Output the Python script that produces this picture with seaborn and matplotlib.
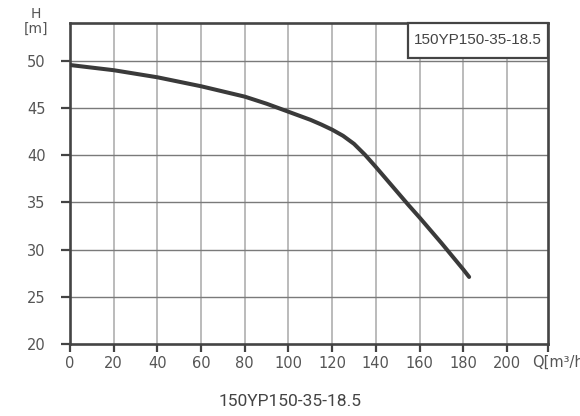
import matplotlib
matplotlib.use('Agg')
import matplotlib.pyplot as plt
from matplotlib.patches import Rectangle
import seaborn as sns
import pandas as pd

# curva Q-H
vazao = [0, 20, 40, 60, 80, 90, 100, 110, 115, 120, 125, 130, 135, 140, 145, 150, 155, 160, 170, 180, 182.7]
altura = [49.55, 49.0, 48.25, 47.3, 46.2, 45.45, 44.6, 43.75, 43.25, 42.7, 42.05, 41.2, 40.05, 38.75, 37.4, 36.05, 34.7, 33.4, 30.7, 27.9, 27.1]
x_ticks = [0, 20, 40, 60, 80, 100, 120, 140, 160, 180, 200]
y_ticks = [20, 25, 30, 35, 40, 45, 50]
modelo = '150YP150-35-18.5'

df = pd.DataFrame({'Q': vazao, 'H': altura})

sns.set_style('white')
plt.rcParams['font.family'] = ['DejaVu Sans']

fig = plt.figure(figsize=(5.8, 4.16), dpi=100)
ax = fig.add_axes([70 / 580, 1 - 344 / 416, 478 / 580, 321 / 416])

sns.lineplot(x='Q', y='H', data=df, ax=ax, color='#3a3a3a', linewidth=2.9,
             solid_capstyle='round', solid_joinstyle='round', zorder=3)

ax.set_xlim(0, 218.8)
ax.set_ylim(20, 54)
ax.set_xticks(x_ticks + [218.8])
ax.set_xticklabels([str(t) for t in x_ticks] + [''])
ax.set_yticks(y_ticks)
ax.set_xlabel('')
ax.set_ylabel('')

# grade
for t in x_ticks[1:]:
    ax.axvline(t, color='#a8a8a8', linewidth=1.1, zorder=1)
for t in y_ticks[1:]:
    ax.axhline(t, color='#7a7a7a', linewidth=1.0, zorder=1)

for lado in ['left', 'bottom', 'top', 'right']:
    ax.spines[lado].set_visible(True)
    ax.spines[lado].set_color('#444444')
    ax.spines[lado].set_linewidth(1.9)

ax.tick_params(axis='x', direction='out', length=5.5, width=1.6, color='#444444',
               labelsize=10.5, labelcolor='#555555', pad=3, bottom=True)
ax.tick_params(axis='y', direction='out', length=6.5, width=1.6, color='#444444',
               labelsize=10.5, labelcolor='#555555', pad=11, left=True)
for lbl in ax.get_xticklabels() + ax.get_yticklabels():
    lbl.set_family('DejaVu Sans')

# caixa com o modelo
ax.add_patch(Rectangle((0.707, 0.891), 0.293, 0.109, transform=ax.transAxes,
                       facecolor='white', edgecolor='#444444', linewidth=1.6,
                       zorder=4, clip_on=False))
ax.text(0.8536, 0.9455, modelo, transform=ax.transAxes, ha='center', va='center',
        fontsize=11, color='#444444', family=['Liberation Sans', 'DejaVu Sans'], zorder=5)

# rótulos dos eixos
ax.text(-0.0711, 1.004, 'H\n[m]', transform=ax.transAxes, ha='center', va='center',
        fontsize=10, color='#555555', linespacing=1.05, family='DejaVu Sans')
ax.text(0.9665, -0.058, 'Q[m³/h]', transform=ax.transAxes, ha='left', va='center',
        fontsize=10.5, color='#555555', clip_on=False, family='DejaVu Sans')

fig.text(0.5, 1 - 401 / 416, modelo, ha='center', va='center', fontsize=12.5,
         color='#444444', family=['Roboto', 'DejaVu Sans'])

fig.savefig('out.png', dpi=100)
